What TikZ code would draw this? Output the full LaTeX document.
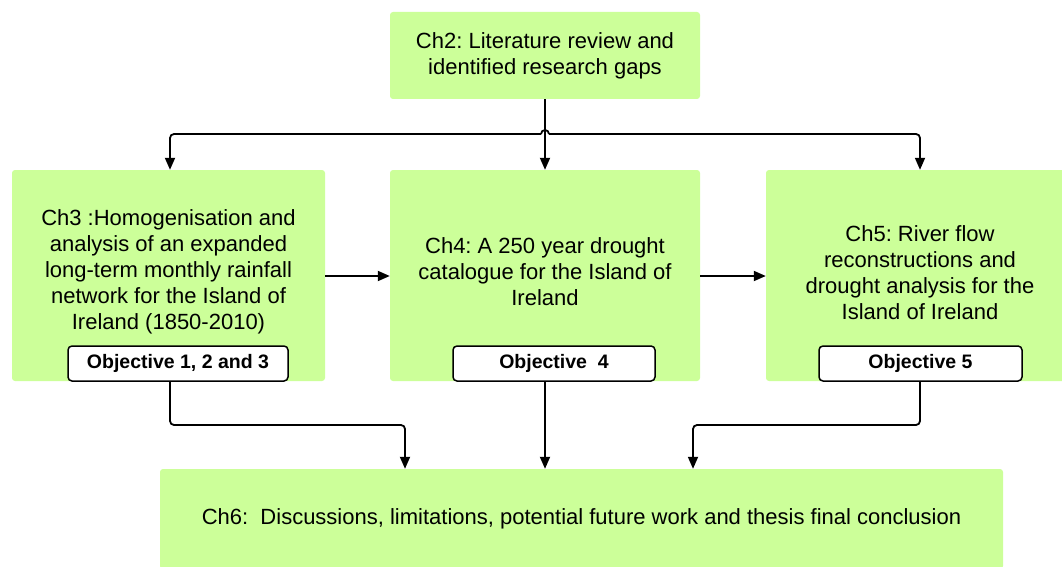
\documentclass[tikz,border=0pt]{standalone}
\usepackage{fontspec}
\setmainfont{Liberation Sans}
\usetikzlibrary{arrows.meta}
\definecolor{boxgreen}{HTML}{CCFF99}
\frenchspacing
\begin{document}
\begin{tikzpicture}[x=1pt,y=-1pt,
  chbox/.style={fill=boxgreen, draw=none, rounded corners=3pt, align=center,
    font=\fontsize{22}{26}\selectfont, inner sep=0pt},
  chtext/.style={align=center, font=\fontsize{22}{26}\selectfont, inner sep=0pt},
  objbox/.style={fill=white, draw=black, line width=1.5pt, rounded corners=4pt,
    font=\bfseries\fontsize{19.5}{22}\selectfont, inner sep=0pt, minimum height=35pt},
  conn/.style={draw=black, line width=1.8pt, rounded corners=4pt},
  arr/.style={conn, -{Triangle[length=12pt,width=10pt]}}
]
\clip (0,0) rectangle (1062,567);
\fill[white] (0,0) rectangle (1062,567);

\node[chbox, minimum width=310pt, minimum height=87pt] (ch2) at (545,55.5)
  {Ch2: Literature review and\\identified research gaps};
\node[chbox, minimum width=313pt, minimum height=211pt] (ch3) at (168.5,275.5) {};
\node[chtext] (t3) at (168.5,272)
  {Ch3 :Homogenisation and\\analysis of an expanded\\long-term monthly rainfall\\network for the Island of\\Ireland (1850-2010)};
\node[chbox, minimum width=310pt, minimum height=211pt] (ch4) at (545,275.5) {};
\node[chtext] (t4) at (545,272)
  {Ch4: A 250 year drought\\catalogue for the Island of\\Ireland};
\node[chbox, minimum width=310pt, minimum height=211pt] (ch5) at (921,275.5) {};
\node[chtext] (t5) at (920,273)
  {Ch5: River flow\\reconstructions and\\drought analysis for the\\Island of Ireland};
\node[chbox, minimum width=843pt, minimum height=100pt] (ch6) at (581.5,519)
  {Ch6:\ \ Discussions, limitations, potential future work and thesis final conclusion};

\node[objbox, minimum width=220pt] (o1) at (178,363.5) {Objective 1, 2 and 3};
\node[objbox, minimum width=202pt] (o4) at (554,363.5) {Objective\ \ 4};
\node[objbox, minimum width=203pt] (o5) at (920.5,363.5) {Objective 5};

% top distribution
\coordinate (hl) at (170,134);
\coordinate (hr) at (920,134);
\coordinate (j1) at (541,134);
\coordinate (j2) at (549,134);
\draw[arr] (j1) -- (hl) -- (hl |- ch3.north);
\draw[conn] (j1) arc[start angle=180, end angle=0, radius=4pt];
\draw[arr] (j2) -- (hr) -- (hr |- ch5.north);
\draw[arr] (ch2.south) -- (ch4.north);

% horizontal arrows
\draw[arr] (ch3.east |- 0,276) -- (ch4.west |- 0,276);
\draw[arr] (ch4.east |- 0,276) -- (ch5.west |- 0,276);

% bottom connectors
\coordinate (b1) at (405,425);
\coordinate (b5) at (693,425);
\draw[arr] (o1.south -| 170,0) -- (170,425) -- (b1) -- (b1 |- ch6.north);
\draw[arr] (o4.south -| 545,0) -- (545 ,0 |- ch6.north);
\draw[arr] (o5.south -| 920,0) -- (920,425) -- (b5) -- (b5 |- ch6.north);
\end{tikzpicture}
\end{document}
